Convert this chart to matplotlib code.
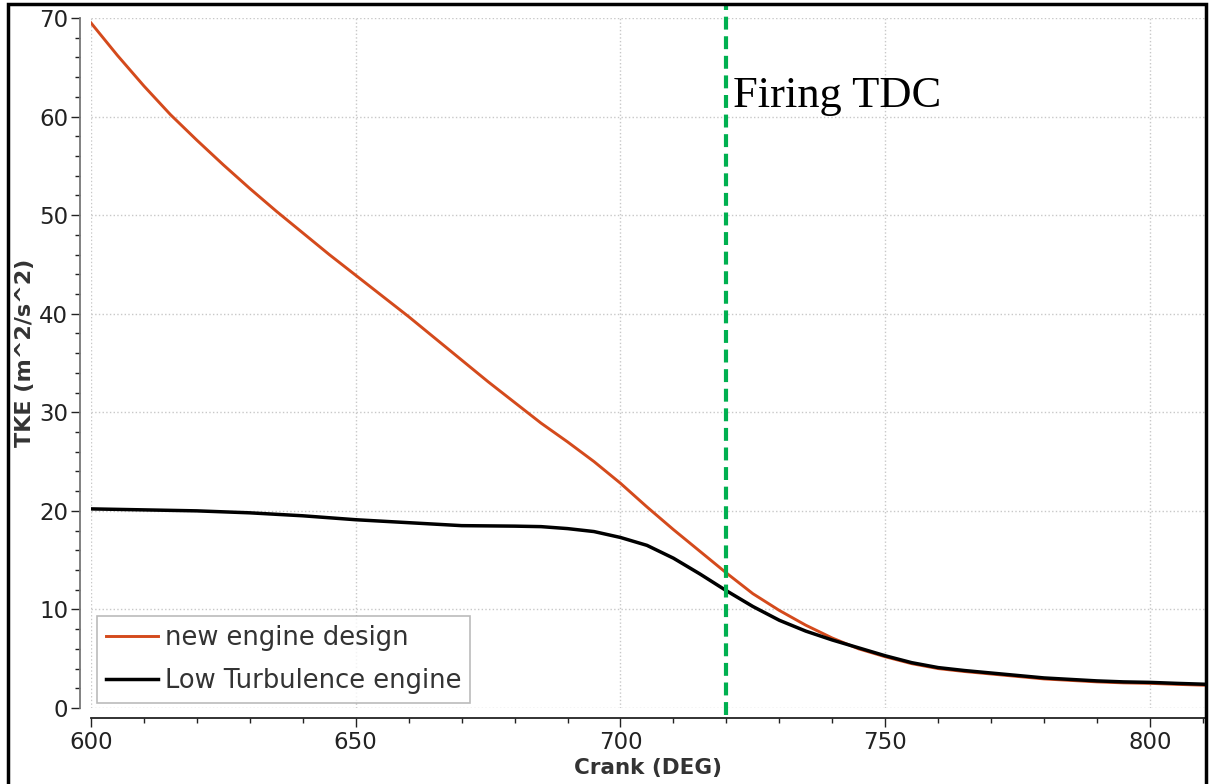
import matplotlib
matplotlib.use('Agg')
import matplotlib.pyplot as plt
from matplotlib.ticker import MultipleLocator
from matplotlib.patches import Rectangle

# crank angle (deg) and turbulent kinetic energy (m^2/s^2)
crank_new = [600, 605, 610, 615, 620, 625, 630, 635, 640, 645, 650, 655, 660,
             665, 670, 675, 680, 685, 690, 695, 700, 705, 710, 715, 720, 725,
             730, 735, 740, 745, 750, 755, 760, 765, 770, 775, 780, 785, 790,
             795, 800, 805, 811]
tke_new = [69.5, 66.2, 63.1, 60.2, 57.6, 55.1, 52.7, 50.4, 48.2, 46.0, 43.9,
           41.8, 39.7, 37.5, 35.3, 33.1, 31.0, 28.9, 27.0, 25.0, 22.8, 20.4,
           18.1, 15.9, 13.7, 11.6, 9.9, 8.4, 7.1, 6.0, 5.2, 4.5, 4.0, 3.7,
           3.45, 3.2, 2.95, 2.8, 2.65, 2.55, 2.5, 2.4, 2.3]

crank_low = [600, 610, 620, 630, 640, 650, 660, 670, 680, 685, 690, 695, 700,
             705, 710, 715, 720, 725, 730, 735, 740, 745, 750, 755, 760, 765,
             770, 775, 780, 785, 790, 795, 800, 805, 811]
tke_low = [20.2, 20.1, 20.0, 19.8, 19.5, 19.1, 18.8, 18.5, 18.45, 18.4, 18.2,
           17.9, 17.3, 16.5, 15.2, 13.6, 11.9, 10.3, 8.9, 7.8, 6.9, 6.1, 5.3,
           4.6, 4.1, 3.8, 3.55, 3.3, 3.05, 2.9, 2.75, 2.65, 2.6, 2.5, 2.4]

tdc = 720

red = '#d44a1c'
green = '#00b050'
grid_c = '#c8c8c8'

fig = plt.figure(figsize=(12.1, 7.84), dpi=100, facecolor='white')
ax = fig.add_axes([91 / 1210, 1 - 708 / 784, 1114 / 1210, 690 / 784])

ax.plot(crank_new, tke_new, color=red, lw=2.1, label='new engine design', zorder=3)
ax.plot(crank_low, tke_low, color='black', lw=2.5, label='Low Turbulence engine', zorder=4)

# firing TDC marker, runs from the top frame down to the x axis
ax.axvline(tdc, ymin=-0.01, ymax=1.02, color=green, lw=3, dashes=(3.1, 1.6),
           clip_on=False, zorder=5)
ax.text(721.3, 61.0, 'Firing TDC', family='Liberation Serif', fontsize=32,
        color='black', va='baseline', ha='left')

ax.set_xlim(600, 810.4)
ax.set_ylim(0, 70)
ax.xaxis.set_major_locator(MultipleLocator(50))
ax.xaxis.set_minor_locator(MultipleLocator(10))
ax.yaxis.set_major_locator(MultipleLocator(10))
ax.yaxis.set_minor_locator(MultipleLocator(2))

ax.grid(True, which='major', color=grid_c, linestyle=':', linewidth=1.0)

for side in ['top', 'right']:
    ax.spines[side].set_visible(False)
ax.spines['left'].set_position(('outward', 8))
ax.spines['bottom'].set_position(('outward', 7))
ax.spines['left'].set_color('#777777')
ax.spines['bottom'].set_color('#222222')
ax.spines['left'].set_linewidth(1.3)
ax.spines['bottom'].set_linewidth(1.3)

ax.tick_params(which='major', direction='out', length=6.5, width=1.0,
               colors='#222222', labelsize=16.5, pad=3)
ax.tick_params(which='minor', direction='out', length=3.6, width=1.0,
               colors='#222222')
ax.tick_params(axis='y', pad=2)

ax.set_xlabel('Crank (DEG)', fontsize=15.5, fontweight='bold', color='#333333',
              labelpad=3)
ax.set_ylabel('TKE (m^2/s^2)', fontsize=16, fontweight='bold', color='#333333',
              labelpad=3)
ax.yaxis.label.set_y(0.514)

leg = ax.legend(loc='lower left', bbox_to_anchor=(0.005, 0.007), borderaxespad=0,
                fontsize=18.5, frameon=True, fancybox=False, handlelength=2.05,
                handletextpad=0.25, borderpad=0.35, labelspacing=0.68)
leg.get_frame().set_edgecolor('#aaaaaa')
leg.get_frame().set_linewidth(1.2)
for t in leg.get_texts():
    t.set_color('#333333')

# outer frame around the whole chart
fig.patches.append(Rectangle((8 / 1210, -0.05), 1198 / 1210, 1.05 - 4 / 784,
                             transform=fig.transFigure, fill=False,
                             edgecolor='black', lw=2.5, zorder=10))

fig.savefig('out.png', dpi=100, facecolor='white')
